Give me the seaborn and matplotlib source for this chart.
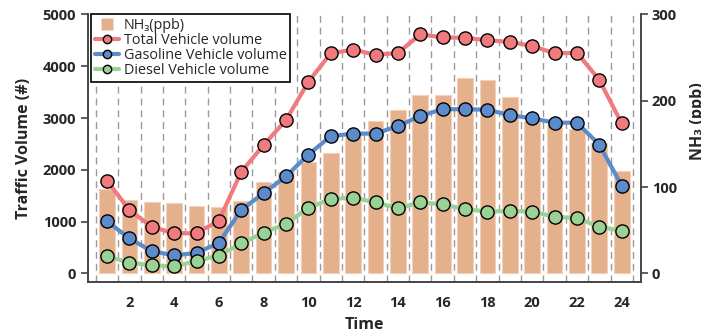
import matplotlib
import matplotlib.pyplot as plt
import numpy as np
import pandas as pd
import seaborn as sns
from matplotlib.lines import Line2D
from matplotlib.ticker import MultipleLocator

matplotlib.use("Agg")

# data
hours = list(range(1, 25))
nh3_ppb = [98, 85, 83, 82, 78.5, 77.5, 84, 106, 117, 129, 139, 161,
           176, 189, 207, 207, 226, 224, 204, 176, 172, 167, 151, 119]
total_volume = [1790, 1225, 900, 775, 775, 1020, 1960, 2480, 2960, 3700, 4250, 4320,
                4220, 4255, 4615, 4555, 4550, 4500, 4470, 4390, 4250, 4260, 3735, 2895]
gasoline_volume = [1010, 675, 430, 350, 395, 590, 1225, 1550, 1875, 2295, 2650, 2700,
                   2700, 2845, 3040, 3170, 3170, 3160, 3055, 2995, 2910, 2910, 2485, 1695]
diesel_volume = [330, 210, 155, 135, 240, 345, 580, 790, 955, 1270, 1435, 1465,
                 1370, 1260, 1370, 1335, 1240, 1195, 1205, 1195, 1095, 1070, 900, 825]

BAR = "#E5B18D"
RED = "#F07A7E"
BLUE = "#5C8BCB"
GREEN = "#9AD296"
SPINE = "#454545"

sns.set_style("white")
plt.rcParams.update({
    "font.family": ["Open Sans", "DejaVu Sans"],
    "axes.edgecolor": SPINE,
    "axes.linewidth": 1.2,
})

fig = plt.figure(figsize=(7.01, 3.35), dpi=100)
ax = fig.add_axes([0.1255, 0.159, 0.7885, 0.798])
ax2 = ax.twinx()

# NH3 bars on the bottom axes (its y axis is shown on the right)
df_nh3 = pd.DataFrame({"Time": hours, "NH3": nh3_ppb})
sns.barplot(data=df_nh3, x="Time", y="NH3", native_scale=True, width=0.7,
            color=BAR, saturation=1, errorbar=None, edgecolor="#F2D2BA",
            linewidth=0.8, ax=ax, zorder=2)
ax.yaxis.tick_right()
ax.yaxis.set_label_position("right")
ax.set_ylim(-9.6, 300)
ax.set_yticks([0, 100, 200, 300])
ax.set_ylabel("NH\u2083 (ppb)", fontsize=11.5, fontweight="bold",
              rotation=90, va="center", ha="center", rotation_mode="anchor")
ax.yaxis.set_label_coords(1.104, 0.6)

ax.set_xlim(0.15, 24.85)
ax.xaxis.set_major_locator(MultipleLocator(2))
ax.xaxis.set_minor_locator(MultipleLocator(1, offset=0.5))
ax.grid(which="minor", axis="x", color="#9A9A9A", linestyle=(0, (5, 3.5)),
        linewidth=1.0, zorder=0)
ax.set_axisbelow(True)
ax.set_xlabel("Time", fontsize=11.5, fontweight="bold", labelpad=5)

# vehicle volumes on the twin axes, drawn above the bars
series = [
    ("Total Vehicle volume", total_volume, RED),
    ("Gasoline Vehicle volume", gasoline_volume, BLUE),
    ("Diesel Vehicle volume", diesel_volume, GREEN),
]
for name, values, col in series:
    sns.lineplot(x=hours, y=values, color=col, linewidth=3, marker="o",
                 markersize=9.5, markeredgecolor="black", markeredgewidth=1.0,
                 markerfacecolor=col, ax=ax2, legend=False)
ax2.yaxis.tick_left()
ax2.yaxis.set_label_position("left")
ax2.set_ylim(-160, 5000)
ax2.set_yticks([0, 1000, 2000, 3000, 4000, 5000])
ax2.set_ylabel("Traffic Volume (#)", fontsize=11.5, fontweight="bold", labelpad=8)

for a in (ax, ax2):
    a.spines["top"].set_visible(False)
    a.tick_params(axis="both", which="major", direction="out", length=5,
                  width=1.2, color=SPINE, labelsize=10.5)
    for lab in a.get_yticklabels() + a.get_xticklabels():
        lab.set_fontweight("bold")
ax.tick_params(axis="x", which="major", length=7)
ax.tick_params(axis="x", which="minor", length=0)
ax.tick_params(axis="y", which="major", pad=3)

handles = [Line2D([], [], linestyle="none", marker="s", markersize=8.5,
                  markerfacecolor=BAR, markeredgecolor="none", label="NH\u2083(ppb)")]
for name, values, col in series:
    handles.append(Line2D([], [], color=col, linewidth=3, marker="o", markersize=6,
                          markerfacecolor=col, markeredgecolor="black",
                          markeredgewidth=1.0, label=name))
leg = ax2.legend(handles=handles, loc="upper left", bbox_to_anchor=(0.006, 1.0),
                 borderaxespad=0, fontsize=10.4, frameon=True, fancybox=False,
                 handlelength=1.7, handletextpad=0.3, labelspacing=0.0,
                 borderpad=0.25)
leg.get_frame().set_edgecolor("black")
leg.get_frame().set_linewidth(1.2)
leg.get_frame().set_alpha(1)

fig.savefig("out.png", dpi=100, facecolor="white")
plt.close(fig)
